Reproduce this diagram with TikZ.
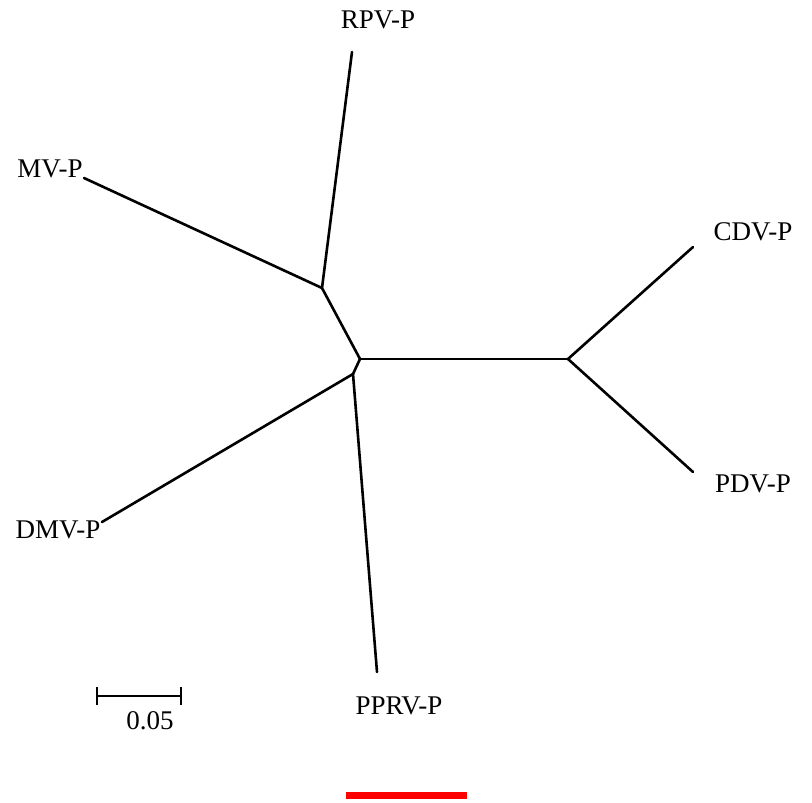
\documentclass[tikz,border=0pt]{standalone}
\usepackage{fontspec}
\setmainfont{Liberation Serif}
\begin{document}
\begin{tikzpicture}[x=1pt,y=-1pt,
  branch/.style={line width=2.6pt,line cap=round,line join=round,black},
  leaf/.style={font=\fontsize{27}{32}\selectfont,inner sep=0pt,anchor=base,text=black}]
\useasboundingbox (0,0) rectangle (812,803);
% junctions
\coordinate (A) at (322,288);
\coordinate (B) at (360,359);
\coordinate (C) at (353,374);
\coordinate (D) at (568,359);
% tips
\coordinate (tRPV) at (352,52);
\coordinate (tMV) at (84,178);
\coordinate (tCDV) at (693,247);
\coordinate (tPDV) at (693,472);
\coordinate (tDMV) at (102,522);
\coordinate (tPPRV) at (377,672);
% labels
\node[leaf] (RPV) at (378,28) {RPV-P};
\node[leaf] (MV) at (50,177) {MV-P};
\node[leaf] (CDV) at (753,240) {CDV-P};
\node[leaf] (PDV) at (753,492) {PDV-P};
\node[leaf] (DMV) at (58,538) {DMV-P};
\node[leaf] (PPRV) at (399,714) {PPRV-P};
% tree
\draw[branch] (tRPV) -- (A);
\draw[branch] (tMV) -- (A);
\draw[branch] (A) -- (B);
\draw[branch] (B) -- (D);
\draw[branch] (D) -- (tCDV);
\draw[branch] (D) -- (tPDV);
\draw[branch] (B) -- (C);
\draw[branch] (C) -- (tDMV);
\draw[branch] (C) -- (tPPRV);
% scale bar
\coordinate (s1) at (97,696);
\coordinate (s2) at (181,696);
\draw[branch,line cap=butt] (s1) -- (s2);
\draw[branch,line cap=butt] ([yshift=-9pt]s1) -- ([yshift=9pt]s1);
\draw[branch,line cap=butt] ([yshift=-9pt]s2) -- ([yshift=9pt]s2);
\node[leaf] (scale) at (150,729) {0.05};
% red bar
\fill[red] (346,792) rectangle (467,799);
\end{tikzpicture}
\end{document}
